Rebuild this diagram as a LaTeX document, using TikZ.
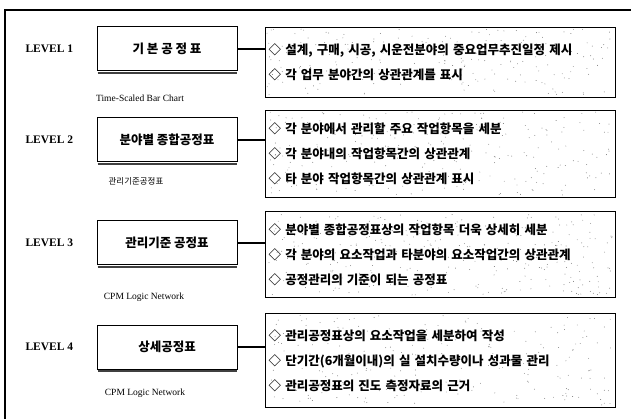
\documentclass[tikz,border=0pt]{standalone}
\usepackage{fontspec}
\setmainfont{Liberation Serif}
\newfontfamily\kr{Noto Sans CJK KR}
\usetikzlibrary{calc}
\newcommand\speckle[5]{%
  \foreach \k in {1,...,#5}{%
    \pgfmathsetmacro\rx{#1+2+(#3-4)*rnd}%
    \pgfmathsetmacro\ry{#2+2+(#4-4)*rnd}%
    \fill[black!55] (\rx,\ry) circle[radius=0.45];}}
\begin{document}
\begin{tikzpicture}[x=1pt,y=-1pt,
  lvl/.style={anchor=west,font=\fontsize{11.5}{13}\selectfont\bfseries},
  titlebox/.style={draw,line width=1pt,minimum width=140pt,minimum height=44pt,inner sep=0pt,font=\kr\bfseries\fontsize{12.5}{14}\selectfont},
  subt/.style={font=\fontsize{9.5}{11}\selectfont},
  subtkr/.style={font=\kr\fontsize{8.5}{10}\selectfont},
  descbox/.style={draw,line width=1.2pt,anchor=north west,minimum width=350pt,text width=344pt,align=left,inner xsep=3pt,inner ysep=0pt,font=\kr\bfseries\fontsize{12.5}{25}\selectfont},
  conn/.style={line width=1.5pt},
  shadowline/.style={line width=2.4pt,black!75}]
\useasboundingbox (0,0) rectangle (631,419);
% outer frame
\draw[line width=1.2pt] (631,10) -- (5,10) -- (5,419);
\pgfmathsetseed{11}
\speckle{265}{27}{350}{70}{220}
\speckle{265}{110}{350}{87}{260}
\speckle{265}{211}{350}{86}{320}
\speckle{265}{313}{350}{94}{230}
% level 1
\node[lvl] (l1) at (22,49) {LEVEL 1};
\node[titlebox] (b1) at (167,49) {기\ 본\ 공\ 정\ 표};
\node[subt] (s1) at (140,98) {Time-Scaled Bar Chart};
\node[descbox,minimum height=70pt] (d1) at (265,27) {◇ 설계, 구매, 시공, 시운전분야의 중요업무추진일정 제시\\◇ 각 업무 분야간의 상관관계를 표시};
% level 2
\node[lvl] (l2) at (22,140) {LEVEL 2};
\node[titlebox] (b2) at (167,140) {분야별 종합공정표};
\node[subtkr] (s2) at (136,181) {관리기준공정표};
\node[descbox,minimum height=87pt] (d2) at (265,110) {◇ 각 분야에서 관리할 주요 작업항목을 세분\\◇ 각 분야내의 작업항목간의 상관관계\\◇ 타 분야 작업항목간의 상관관계 표시};
% level 3
\node[lvl] (l3) at (22,243) {LEVEL 3};
\node[titlebox] (b3) at (167,243) {관리기준 공정표};
\node[subt] (s3) at (144,297) {CPM Logic Network};
\node[descbox,minimum height=86pt] (d3) at (265,211) {◇ 분야별 종합공정표상의 작업항목 더욱 상세히 세분\\◇ 각 분야의 요소작업과 타분야의 요소작업간의 상관관계\\◇ 공정관리의 기준이 되는 공정표};
% level 4
\node[lvl] (l4) at (22,347) {LEVEL 4};
\node[titlebox] (b4) at (167,347) {상세공정표};
\node[subt] (s4) at (145,393) {CPM Logic Network};
\node[descbox,minimum height=94pt] (d4) at (265,313) {◇ 관리공정표상의 요소작업을 세분하여 작성\\◇ 단기간(6개월이내)의 실 설치수량이나 성과물 관리\\◇ 관리공정표의 진도 측정자료의 근거};
% shadows and connectors
\foreach \n in {1,2,3,4}{
  \draw[shadowline] ($(b\n.south west)+(1,1.6)$) -- ($(b\n.south east)+(-1,1.6)$);
  \draw[conn] (b\n.east) -- (b\n.east -| d\n.west);
}
\end{tikzpicture}
\end{document}
